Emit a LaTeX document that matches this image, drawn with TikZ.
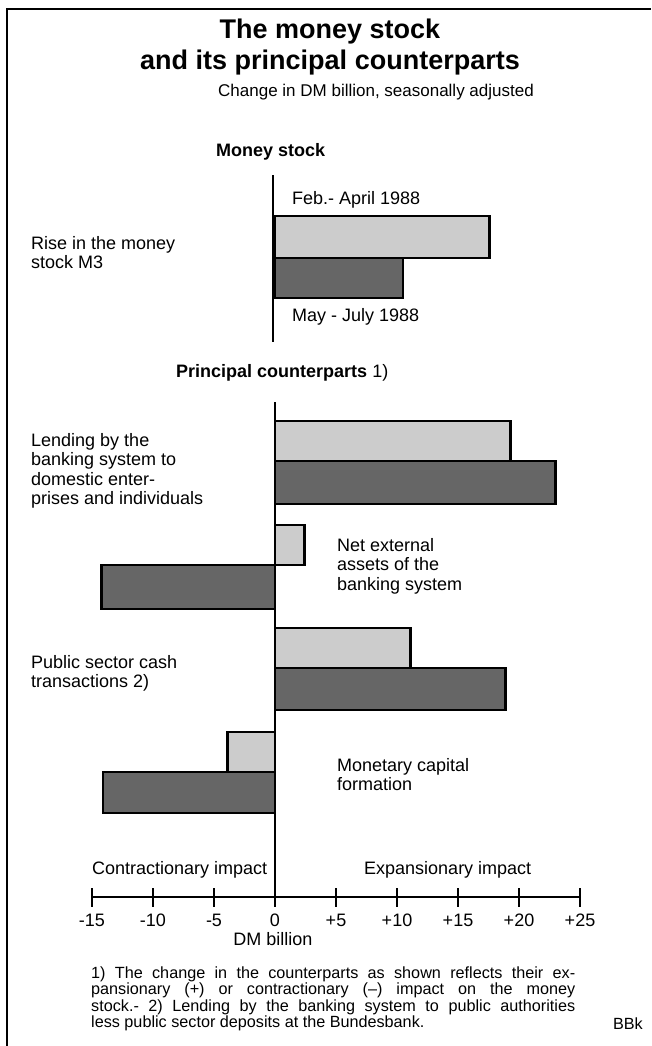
\documentclass[tikz,border=0pt]{standalone}
\usepackage{fontspec}
\setmainfont{Liberation Sans}
\tikzset{%
  lbl/.style={anchor=west,inner sep=0pt,font=\fontsize{18}{19.5}\selectfont},
  blk/.style={anchor=north west,inner sep=0pt,align=left,font=\fontsize{18}{19.5}\selectfont},
  hdr/.style={anchor=west,inner sep=0pt,font=\fontsize{18}{20}\selectfont\bfseries},
  fnote/.style={anchor=west,inner sep=0pt,font=\fontsize{16.2}{17}\selectfont},
  barframe/.style={draw=black,line width=2.6pt}
}

\begin{document}
\begin{tikzpicture}[x=1pt,y=-1pt]
% ---- colors ----
\definecolor{bblight}{gray}{0.80}   % light stipple (Feb.-April)
\definecolor{bbdark}{gray}{0.40}    % dark stipple (May-July)

% geometry (1pt = 1 pixel, y downwards)
\def\zx{275}     % zero line
\def\ux{12.2}    % width of DM 1 billion
\def\axy{897}    % horizontal axis
\def\fnw{484pt}  % footnote width

\useasboundingbox (0,0) rectangle (651,1046);

% ===================== frame =====================
\draw[line width=1.6pt] (7,1046) -- (7,9) -- (651,9);

% ===================== title =====================
\node[inner sep=0pt,font=\fontsize{27}{31}\selectfont\bfseries] (title1) at (330,32) {The money stock};
\node[inner sep=0pt,font=\fontsize{27}{31}\selectfont\bfseries] (title2) at (330,63) {and its principal counterparts};
\node[anchor=west,inner sep=0pt,font=\fontsize{17}{19}\selectfont] (subtitle) at (218,92)
  {Change in DM billion, seasonally adjusted};

% ===================== bar macro =====================
% #1 top y, #2 middle y, #3 bottom y, #4 Feb.-April value, #5 May-July value
\newcommand{\barpair}[5]{
  \filldraw[barframe,fill=bblight] (\zx,#1) rectangle (\zx+#4*\ux,#2);
  \filldraw[barframe,fill=bbdark]  (\zx,#2) rectangle (\zx+#5*\ux,#3);
}

% ====== Money stock ======
\node[hdr] (moneyhdr) at (216,152) {Money stock};
\barpair{216}{258}{298}{17.6}{10.5}
\draw[line width=1.8pt] (\zx-2,175) -- (\zx-2,342);   % zero line
\node[lbl] (feb) at (292,200) {Feb.- April 1988};
\node[lbl] (may) at (292,317) {May - July 1988};
\node[blk] (m3) at (31,236) {Rise in the money\\stock M3};

% ====== Principal counterparts ======
\node[hdr] (cphdr) at (176,373) {Principal counterparts \mdseries 1)};
\barpair{421}{461}{504}{19.3}{23.0}    % lending
\barpair{525}{565}{609}{2.4}{-14.2}    % net external assets
\barpair{628}{668}{710}{11.1}{18.9}    % public sector
\barpair{732}{772}{813}{-3.9}{-14.1}   % monetary capital
\draw[line width=1.8pt] (\zx,402) -- (\zx,907);     % zero line

\node[blk] (lending) at (31,433)
  {Lending by the\\banking system to\\domestic enter-\\prises and individuals};
\node[blk] (netext) at (337,538) {Net external\\assets of the\\banking system};
\node[blk] (public) at (31,655) {Public sector cash\\transactions 2)};
\node[blk] (moncap) at (337,758) {Monetary capital\\formation};

% ====== axis ======
\node[lbl] (contr) at (92,870) {Contractionary impact};
\node[lbl] (expan) at (364,870) {Expansionary impact};
\draw[line width=1.5pt] (\zx-15*\ux,\axy) -- (\zx+25*\ux,\axy);
\foreach \v/\t in {-15/-15,-10/-10,-5/-5,0/0,5/+5,10/+10,15/+15,20/+20,25/+25}{
  \draw[line width=1.5pt] (\zx+\v*\ux,888) -- (\zx+\v*\ux,907);
  \node[inner sep=0pt,font=\fontsize{18}{19.5}\selectfont] (tick\v) at (\zx+\v*\ux,920) {\t};
}
\node[inner sep=0pt,font=\fontsize{18}{19.5}\selectfont] (unit) at (273,939) {DM billion};

% ====== footnotes ======
\node[fnote] (fn1) at (91,974)  {\makebox[\fnw][s]{1) The change in the counterparts as shown reflects their ex-}};
\node[fnote] (fn2) at (91,990.5)  {\makebox[\fnw][s]{pansionary (+) or contractionary (--) impact on the money}};
\node[fnote] (fn3) at (91,1007) {\makebox[\fnw][s]{stock.- 2) Lending by the banking system to public authorities}};
\node[fnote] (fn4) at (91,1023.5) {less public sector deposits at the Bundesbank.};
\node[fnote,anchor=east] (bbk) at (643,1024) {BBk};

\end{tikzpicture}
\end{document}
